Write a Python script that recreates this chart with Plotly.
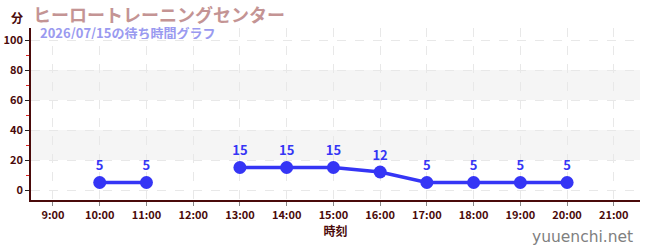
import plotly.graph_objects as go

hours = [10, 11, 12, 13, 14, 15, 16, 17, 18, 19, 20]
waits = [5, 5, None, 15, 15, 15, 12, 5, 5, 5, 5]
tick_hours = list(range(9, 22))
tick_labels = [f"{h}:00" for h in tick_hours]
y_ticks = [0, 20, 40, 60, 80, 100]
bands = [(20, 40), (60, 80)]

title = "ヒーロートレーニングセンター"
subtitle = "2026/07/15の待ち時間グラフ"
y_unit = "分"
x_title = "時刻"
watermark = "yuuenchi.net"

FONT = "Noto Sans CJK JP"
AXIS = "#4a0a0a"
BLUE = "#3535f5"

fig = go.Figure()
fig.add_trace(go.Scatter(
    x=hours, y=waits, mode="lines+markers+text",
    line=dict(color=BLUE, width=3.5),
    marker=dict(color=BLUE, size=13),
    text=[("" if v is None else str(v)) for v in waits],
    textposition="top center",
    textfont=dict(family=FONT, size=13, color=BLUE, weight="bold"),
    connectgaps=False, hoverinfo="skip", cliponaxis=False,
))

for lo, hi in bands:
    fig.add_shape(type="rect", xref="paper", yref="y", x0=0, x1=1, y0=lo, y1=hi,
                  fillcolor="#f5f5f5", line_width=0, layer="below")

fig.update_layout(
    width=650, height=250,
    margin=dict(l=31, r=10, t=28, b=50, autoexpand=False),
    plot_bgcolor="white", paper_bgcolor="white",
    showlegend=False,
    font=dict(family=FONT, color=AXIS),
)
fig.update_xaxes(
    range=[8.53, 21.56], tickvals=tick_hours, ticktext=tick_labels,
    showgrid=True, gridcolor="#e8e8e8", griddash="dash", gridwidth=1,
    showline=True, linecolor=AXIS, linewidth=1.5,
    ticks="outside", ticklen=4, tickcolor="#888888",
    tickfont=dict(family=FONT, size=11, color=AXIS, weight="bold"),
    zeroline=False, automargin=False,
    title=dict(text=x_title, font=dict(family=FONT, size=12, color=AXIS, weight="bold"), standoff=6),
)
fig.update_yaxes(
    range=[-6.67, 108], tickvals=y_ticks,
    showgrid=True, gridcolor="#e8e8e8", griddash="dash", gridwidth=1,
    showline=True, linecolor=AXIS, linewidth=1.5,
    ticks="outside", ticklen=4, tickcolor="#222222",
    tickfont=dict(family=FONT, size=11, color=AXIS, weight="bold"),
    minor=dict(dtick=10, tick0=0, ticks="outside", ticklen=3, tickcolor="#dd2222", showgrid=False),
    zeroline=False, automargin=False,
)

fig.add_annotation(text=y_unit, xref="paper", yref="paper", x=-22/609, y=1 + 10/172,
                   xanchor="left", yanchor="middle", showarrow=False,
                   font=dict(family=FONT, size=12, color=AXIS, weight="bold"))
fig.add_annotation(text=title, xref="paper", yref="paper", x=0/609, y=1 + 14/172,
                   xanchor="left", yanchor="middle", showarrow=False, height=20, valign="middle",
                   font=dict(family=FONT, size=18, color="#c49494", weight="bold"))
fig.add_annotation(text=subtitle, xref="paper", yref="paper", x=7/609, y=1 - 4/172,
                   xanchor="left", yanchor="middle", showarrow=False, height=14, valign="middle",
                   font=dict(family=FONT, size=13, color="#9a9af0", weight="bold"))
fig.add_annotation(text=watermark, xref="paper", yref="paper", x=1 - 5/609, y=-37/172,
                   xanchor="right", yanchor="middle", showarrow=False,
                   font=dict(family="DejaVu Sans", size=15.5, color="#808080"))

fig.write_html("out.html")
